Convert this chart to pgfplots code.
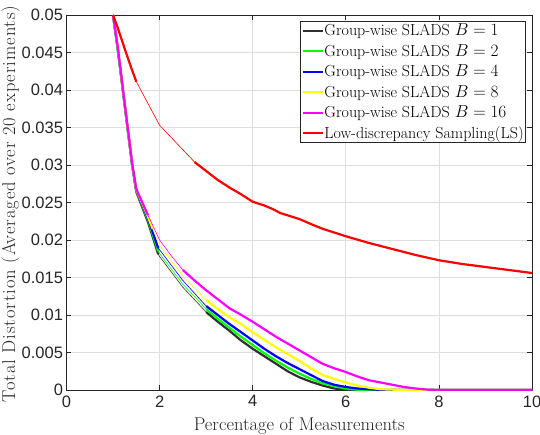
\documentclass[border=0pt]{standalone}
\usepackage{fontspec}
\usepackage{pgfplots}
\pgfplotsset{compat=1.18}
\newfontfamily\ticksf{Liberation Sans}
\newfontfamily\ylabfont[LetterSpace=5]{Latin Modern Roman}
\definecolor{mblack}{RGB}{48,48,48}
\definecolor{mgreen}{RGB}{0,255,0}
\definecolor{mblue}{RGB}{0,0,255}
\definecolor{myellow}{RGB}{255,255,0}
\definecolor{mmagenta}{RGB}{255,0,255}
\definecolor{mred}{RGB}{255,0,0}
\definecolor{axgray}{RGB}{38,38,38}
\definecolor{gridgray}{RGB}{222,222,222}
\begin{document}
\begin{tikzpicture}
\useasboundingbox (-66.5pt,-44pt) rectangle (473.5pt,390pt);
\begin{axis}[
  at={(0pt,0pt)}, anchor=south west,
  scale only axis, width=465.5pt, height=375pt,
  xmin=0, xmax=10, ymin=0, ymax=0.05,
  xtick={0,2,4,6,8,10},
  ytick={0,0.005,0.01,0.015,0.02,0.025,0.03,0.035,0.04,0.045,0.05},
  scaled y ticks=false,
  yticklabel style={/pgf/number format/fixed,/pgf/number format/precision=3},
  xticklabel style={yshift=-2pt},
  /pgf/number format/assume math mode=true,
  tick label style={font=\ticksf\fontsize{16.5}{19}\selectfont, text=axgray},
  grid=major, grid style={gridgray, line width=0.7pt},
  axis line style={axgray, line width=0.8pt},
  tick style={axgray, line width=0.8pt},
  major tick length=5pt,
  tick align=inside,
  xlabel={Percentage of Measurements},
  ylabel={Total Distortion (Averaged over 20 experiments)},
  xlabel style={font=\fontsize{18.5}{22}\selectfont, text=axgray, at={(axis description cs:0.5,-0.1067)}, anchor=base, inner sep=0pt},
  ylabel style={font=\ylabfont\fontsize{18.5}{22}\selectfont, text=axgray, at={(axis description cs:-0.1106,0.496)}, anchor=base, inner sep=0pt},
  legend style={at={(axis description cs:0.9865,0.984)}, anchor=north east,
    font=\fontsize{16}{19}\selectfont, draw=axgray, line width=0.8pt,
    inner xsep=1pt, inner ysep=2pt, row sep=6pt,
    nodes={inner sep=0.6pt, text=black}},
  legend cell align=left,
  legend image code/.code={\draw[#1] (0pt,0pt) -- (20pt,0pt);},
]
% B=1
\addplot[mblack, line width=2.2pt] coordinates {(1,0.05)(1.1,0.0455)(1.21,0.040)(1.31,0.035)(1.41,0.030)(1.5,0.0264)(1.75,0.0224)(1.97,0.0181)};
\addlegendentry{Group-wise SLADS $B=1$}
\addplot[forget plot, mblack, line width=0.6pt] coordinates {(1.97,0.0181)(2,0.0178)(2.5,0.0137)(3,0.0104)};
\addplot[forget plot, mblack, line width=2.2pt] coordinates {(3,0.0104)(3.25,0.0091)(3.5,0.0079)(3.73,0.0067)(4,0.0055)(4.25,0.0045)(4.5,0.0035)(4.75,0.0025)(5,0.0017)(5.25,0.0011)(5.5,0.0006)(5.75,0.0002)(6,0.00005)(6.25,0)(10,0)};
% B=2
\addplot[mgreen, line width=2.2pt] coordinates {(1,0.05)(1.1,0.0455)(1.21,0.040)(1.31,0.035)(1.41,0.030)(1.5,0.0265)(1.75,0.0227)(1.97,0.0185)};
\addlegendentry{Group-wise SLADS $B=2$}
\addplot[forget plot, mgreen, line width=0.6pt] coordinates {(1.97,0.0185)(2,0.0182)(2.5,0.0141)(3,0.0108)};
\addplot[forget plot, mgreen, line width=2.2pt] coordinates {(3,0.0108)(3.25,0.0095)(3.5,0.0083)(3.73,0.0072)(4,0.0060)(4.25,0.0049)(4.5,0.0039)(4.75,0.0030)(5,0.0022)(5.25,0.0015)(5.5,0.0009)(5.75,0.0005)(6,0.0002)(6.3,0)(10,0)};
% B=4
\addplot[mblue, line width=2.2pt] coordinates {(1,0.05)(1.1,0.0456)(1.21,0.0401)(1.31,0.0351)(1.41,0.0301)(1.5,0.0266)(1.75,0.0229)(1.97,0.0189)};
\addlegendentry{Group-wise SLADS $B=4$}
\addplot[forget plot, mblue, line width=0.6pt] coordinates {(1.97,0.0189)(2,0.0187)(2.5,0.0146)(3,0.0112)};
\addplot[forget plot, mblue, line width=2.2pt] coordinates {(3,0.0112)(3.25,0.0100)(3.5,0.0088)(3.73,0.0078)(4,0.0066)(4.25,0.0055)(4.5,0.0045)(4.75,0.0036)(5,0.0028)(5.25,0.0020)(5.5,0.0012)(5.75,0.0007)(6,0.0004)(6.25,0.0002)(6.5,0.0001)(6.8,0)(10,0)};
% B=8
\addplot[myellow, line width=2.2pt] coordinates {(1,0.05)(1.1,0.0457)(1.21,0.0401)(1.31,0.0351)(1.41,0.0301)(1.5,0.0267)(1.75,0.0231)(1.85,0.0215)};
\addlegendentry{Group-wise SLADS $B=8$}
\addplot[forget plot, myellow, line width=0.6pt] coordinates {(1.85,0.0215)(2,0.0193)(2.5,0.0152)(3,0.0120)};
\addplot[forget plot, myellow, line width=2.2pt] coordinates {(3,0.0120)(3.25,0.0108)(3.5,0.0097)(3.73,0.0089)(4,0.0077)(4.25,0.0067)(4.5,0.0057)(4.75,0.0048)(5,0.0039)(5.25,0.0029)(5.5,0.0020)(5.75,0.0015)(6,0.0010)(6.25,0.0006)(6.5,0.0003)(6.75,0.0001)(7,0.00005)(7.2,0)(10,0)};
% B=16
\addplot[mmagenta, line width=2.2pt] coordinates {(1,0.05)(1.1,0.0458)(1.21,0.0402)(1.31,0.0352)(1.41,0.0302)(1.5,0.0268)(1.75,0.0233)};
\addlegendentry{Group-wise SLADS $B=16$}
\addplot[forget plot, mmagenta, line width=0.6pt] coordinates {(1.75,0.0233)(2,0.0200)(2.25,0.0179)(2.5,0.0160)};
\addplot[forget plot, mmagenta, line width=2.2pt] coordinates {(2.5,0.0160)(2.75,0.0146)(3,0.0133)(3.25,0.0121)(3.5,0.0109)(3.73,0.0101)(4,0.0091)(4.25,0.0081)(4.5,0.0071)(4.75,0.0062)(5,0.0053)(5.25,0.0044)(5.5,0.0035)(5.75,0.0029)(6,0.0024)(6.25,0.0018)(6.5,0.0013)(6.75,0.0010)(7,0.0007)(7.25,0.0004)(7.5,0.0002)(7.75,0.00005)(8,0)(10,0)};
% LS
\addplot[mred, line width=2.2pt] coordinates {(1,0.05)(1.1,0.0483)(1.25,0.0455)(1.4,0.0428)(1.5,0.0411)};
\addlegendentry{Low-discrepancy Sampling(LS)}
\addplot[forget plot, mred, line width=0.6pt] coordinates {(1.5,0.0411)(2,0.0353)(2.75,0.0304)};
\addplot[forget plot, mred, line width=2.2pt] coordinates {(2.75,0.0304)(3,0.0292)(3.25,0.0280)(3.5,0.0270)(3.75,0.0261)(4,0.0251)(4.25,0.0246)(4.44,0.0241)(4.59,0.0236)(5,0.0228)(5.3,0.0220)(5.5,0.0215)(6,0.0205)(6.5,0.0196)(7,0.0188)(7.5,0.0180)(8,0.0173)(8.5,0.0168)(8.88,0.0165)(9,0.0164)(9.5,0.0160)(10,0.0156)};
\end{axis}
\end{tikzpicture}
\end{document}
